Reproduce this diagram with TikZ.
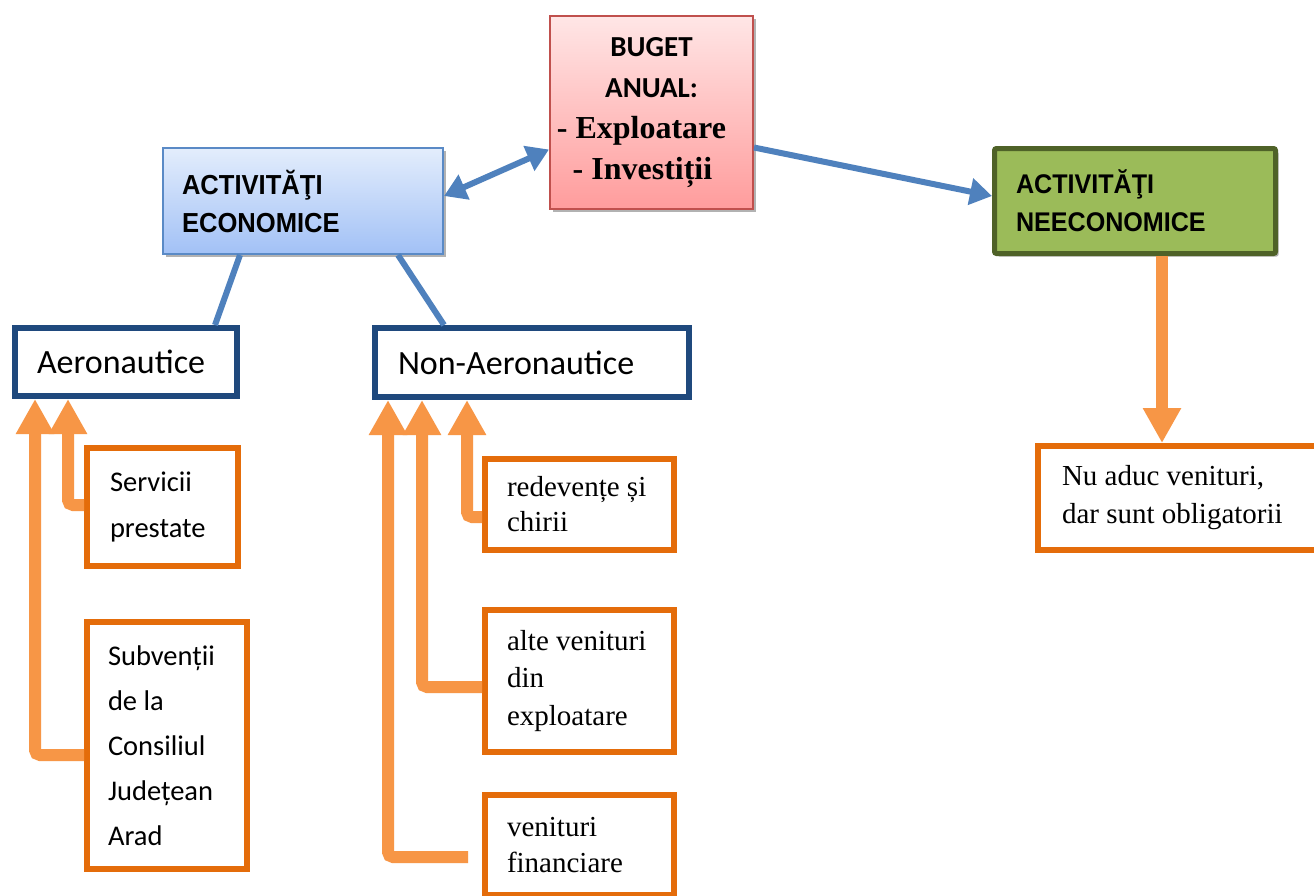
\documentclass[tikz,border=0pt]{standalone}
\usepackage{fontspec}
\setmainfont{Liberation Serif}
\newfontfamily\carlito{Carlito}
\newfontfamily\lsans{Liberation Sans}[FakeStretch=0.93]
\usetikzlibrary{arrows.meta,shadows,calc}
\definecolor{orbox}{HTML}{E46C0A}
\definecolor{orline}{HTML}{F79646}
\definecolor{navybox}{HTML}{1F497D}
\definecolor{bline}{HTML}{4F81BD}
\definecolor{redborder}{HTML}{C0504D}
\definecolor{pinktop}{HTML}{FFE6E6}
\definecolor{pinkbot}{HTML}{FF9C9C}
\definecolor{bluetop}{HTML}{E3EDFC}
\definecolor{bluebot}{HTML}{A2C1F6}
\definecolor{blueborder}{HTML}{5A8AC6}
\definecolor{greenfill}{HTML}{9BBB59}
\definecolor{olive}{HTML}{4F6228}
\begin{document}
\begin{tikzpicture}[x=1pt,y=-1pt,
  box/.style={rectangle, anchor=north west, inner ysep=0pt, align=flush left},
  orangebox/.style={box, draw=orbox, line width=6pt, fill=white},
  carl/.style={font=\carlito\fontsize{28.5}{46}\selectfont},
  serif/.style={font=\fontsize{29}{36}\selectfont},
  navy/.style={box, draw=navybox, line width=6pt, fill=white, font=\carlito\fontsize{34}{40}\selectfont},
  shad/.style={drop shadow={shadow xshift=3pt, shadow yshift=-3pt, opacity=0.3, fill=black}},
  conn/.style={draw=bline, line width=6pt},
  bluetip/.style={conn, -{Triangle[width=26pt,length=22pt]}},
  orarrow/.style={draw=orline, line width=12pt, rounded corners=5pt, -{Triangle[width=36pt,length=35pt]}}
]
\useasboundingbox (0,0) rectangle (1314,895);
\fill[white] (0,0) rectangle (1314,895);

% top row
\node[box, shad, draw=redborder, line width=2pt, top color=pinktop, bottom color=pinkbot,
      minimum width=203pt, minimum height=193pt, align=center, inner xsep=0pt,
      font=\fontsize{32}{41}\selectfont\bfseries] (buget) at (549,15)
  {{\carlito\fontsize{29}{40}\selectfont BUGET}\\{\carlito\fontsize{29}{40}\selectfont ANUAL:}\\- Exploatare\kern20pt\\- Investiții\kern18pt};

\node[box, shad, draw=blueborder, line width=2pt, top color=bluetop, bottom color=bluebot,
      minimum width=280pt, minimum height=106pt, inner xsep=19pt, text width=242pt,
      font=\lsans\bfseries\fontsize{27.5}{38}\selectfont] (econ) at (162,147)
  {ACTIVITĂŢI\\ECONOMICE};

\node[box, shad, draw=olive, line width=5pt, fill=greenfill, rounded corners=2pt,
      minimum width=281pt, minimum height=105pt, inner xsep=21.5pt, text width=238pt,
      font=\lsans\bfseries\fontsize{27}{38}\selectfont] (neecon) at (992,146)
  {ACTIVITĂŢI\\NEECONOMICE};

% second row
\node[navy, minimum width=222pt, minimum height=68pt, inner xsep=22pt, text width=178pt] (aero) at (12,325) {Aeronautice};
\node[navy, minimum width=314pt, minimum height=69pt, inner xsep=23pt, text width=268pt] (nonaero) at (372,325) {Non-Aeronautice};

% orange boxes
\node[orangebox, carl, minimum width=151pt, minimum height=118pt, inner xsep=23pt, text width=105pt] (serv) at (84,445) {Servicii\\prestate};
\node[orangebox, carl, font=\carlito\fontsize{28.5}{45}\selectfont, minimum width=160pt, minimum height=247pt, inner xsep=21pt, text width=118pt] (subv) at (84,619) {Subvenții\\de la\\Consiliul\\Județean\\Arad};
\node[orangebox, serif, font=\fontsize{29}{35}\selectfont, minimum width=189pt, minimum height=91pt, inner xsep=22pt, text width=145pt] (redev) at (482,456) {redevențe și\\chirii};
\node[orangebox, serif, font=\fontsize{29}{37.5}\selectfont, minimum width=189pt, minimum height=142pt, inner xsep=22pt, text width=145pt] (alte) at (482,607) {alte venituri\\din\\exploatare};
\node[orangebox, serif, minimum width=189pt, minimum height=100pt, inner xsep=22pt, text width=145pt] (vfin) at (482,792) {venituri\\financiare};
\node[orangebox, serif, font=\fontsize{29}{38}\selectfont, minimum width=292pt, minimum height=104pt, inner xsep=24pt, text width=244pt] (nu) at (1035,443) {Nu aduc venituri,\\dar sunt obligatorii};

% blue connectors
\draw[bluetip, {Triangle[width=26pt,length=22pt]}-{Triangle[width=26pt,length=22pt]}]
  ([yshift=5pt]econ.east) -- ([yshift=-37pt]buget.west);
\draw[bluetip] ([yshift=-35pt]buget.east) -- ([yshift=5pt]neecon.west);
\draw[conn] ([xshift=-63pt]econ.south) -- ([xshift=89pt]aero.north);
\draw[conn] ([xshift=95pt]econ.south) -- ([xshift=-88pt]nonaero.north);

% orange arrows
\draw[orarrow] ([yshift=2pt]serv.west) -| ([xshift=-58pt]aero.south);
\draw[orarrow] ([yshift=-9.5pt]subv.west) -| ([xshift=-91pt]aero.south);
\draw[orarrow] ([yshift=-12.5pt]redev.west) -| ([xshift=-65pt]nonaero.south);
\draw[orarrow] ([yshift=-6pt]alte.west) -| ([xshift=-110pt]nonaero.south);
\draw[orarrow] ([yshift=-12pt,xshift=-14pt]vfin.west) -| ([xshift=-144pt]nonaero.south);
\draw[orarrow] ([xshift=27pt]neecon.south) -- ([xshift=-22pt]nu.north);
\end{tikzpicture}
\end{document}
